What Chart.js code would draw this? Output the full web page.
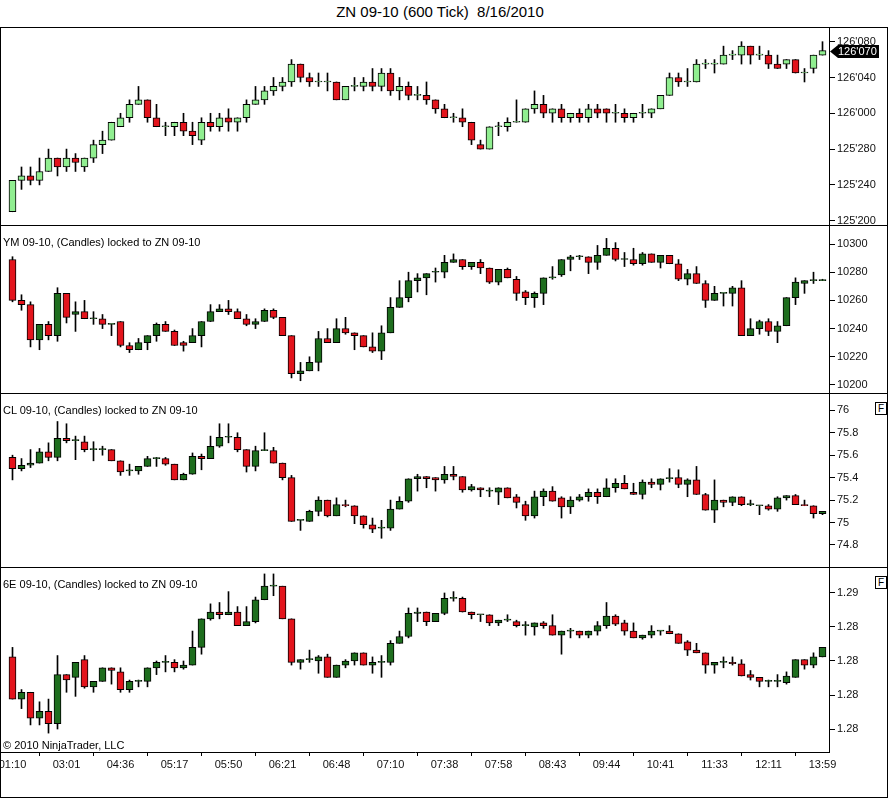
<!DOCTYPE html>
<html>
<head>
<meta charset="utf-8">
<script src="https://cdn.jsdelivr.net/npm/chart.js@4.4.0/dist/chart.umd.min.js"></script>
<style>
  body { margin: 0; background: #fff; }
  #wrap { position: relative; width: 889px; height: 798px; overflow: hidden; font-family: "Liberation Sans", Arial, sans-serif; color: #000; }
  #title { position: absolute; left: 0; top: 3px; width: 880px; text-align: center; font-size: 15px; white-space: pre; }
  .pane { position: absolute; left: 0; }
  .frame { position: absolute; left: 0; top: 27px; width: 886px; height: 769px; border: 1px solid #000; pointer-events: none; }
  .sep { position: absolute; left: 0; width: 888px; height: 1px; background: #000; }
  .lbl { position: absolute; left: 3px; font-size: 11px; white-space: pre; }
  .fbox { position: absolute; left: 875px; width: 10px; height: 11px; border: 1px solid #000; font-size: 10px; line-height: 11px; text-align: center; background: #fff; }
</style>
</head>
<body>
<div id="wrap">
  <div id="title">ZN 09-10 (600 Tick)  8/16/2010</div>
  <div class="pane" style="top:27px"><canvas id="zn" width="889" height="198"></canvas></div>
  <div class="pane" style="top:225px"><canvas id="ym" width="889" height="168"></canvas></div>
  <div class="pane" style="top:393px"><canvas id="cl" width="889" height="174"></canvas></div>
  <div class="pane" style="top:567px"><canvas id="eu" width="889" height="230"></canvas></div>
  <div class="frame"></div>
  <div class="sep" style="top:225px"></div>
  <div class="sep" style="top:393px"></div>
  <div class="sep" style="top:567px"></div>
  <div class="lbl" style="top:236px">YM 09-10, (Candles) locked to ZN 09-10</div>
  <div class="lbl" style="top:404px">CL 09-10, (Candles) locked to ZN 09-10</div>
  <div class="lbl" style="top:578px">6E 09-10, (Candles) locked to ZN 09-10</div>
  <div class="lbl" style="top:739px">© 2010 NinjaTrader, LLC</div>
  <div class="fbox" style="top:402px">F</div>
  <div class="fbox" style="top:576px">F</div>
</div>
<script>
// time labels under the bottom panel, one every 6 bars
const timeLabels = ['01:10','03:01','04:36','05:17','05:50','06:21','06:48','07:10','07:38','07:58','08:43','09:44','10:41','11:33','12:11','13:59'];
const labelStep = 6;

// ZN 09-10, in 32nds above 125'000
const znOpen = [21,24.5,25,24.5,25.5,27,26,27,26,27, 28.5,29,30.5,31.5,33,33.5,31.5,30.5,30.5,31, 30,29,31,30.5,31.5,31,31.5,33,33.5,34.5, 35,35.5,37.5,36,35.5,35.5,35.5,33.5,35,35, 35.5,35,36.5,34.5,35,34,34,33.5,32.5,31.5, 31.5,31,28.5,28,30.5,30.5,31,31,32.5,33, 32,32.5,31.5,32,31.5,32.5,32.5,32,32,31.5, 32,32,32.5,34,36,35.5,35.5,37.5,37.5,37.5, 38.5,38.5,39.5,38.5,38.5,37.5,37.5,38,36.5,37, 38.5];
const znHigh = [24.5,26,26,27,28,27,28,27.5,27,29, 30,31,32,33.5,35,33.5,33,31,31,32, 31,31.5,32,32,32.5,31.5,33.5,35,35,36, 36,38,37.5,36.5,36.5,36.5,35.5,35,36,36, 37,37,37,36,35.5,35,35.5,33.5,33,32, 32.5,31,29,30.5,31,31.5,33.5,32.5,34.5,34, 32.5,33,32,32.5,33,33,32.5,33,32.5,32, 33,32.5,34,36.5,36.5,37,38,38,38,39.5, 39,40,39.5,39.5,39,38.5,38,38,37,38.5, 40];
const znLow = [21,23.5,24,24,25.5,25,25.5,25.5,25.5,26.5, 27.5,29,30.5,31,33,31,30.5,29.5,29.5,29.5, 28.5,28.5,30,30,30,30,31,33,33,34, 34.5,35,35.5,35,35,34.5,33.5,33.5,34.5,34.5, 34.5,34.5,34,33.5,33.5,33.5,33,32,31.5,31, 30.5,28.5,28,28,29.5,30,31,31,32,31.5, 31,31,31,31,31,31.5,31,31,31,31, 31.5,31.5,32.5,34,35,35,35.5,37,36.5,37.5, 38,37.5,37.5,38,37,37,37,36.5,35.5,36.5, 38.5];
const znClose = [24.5,25,24.5,25.5,27,26,27,26.5,27,28.5, 29,31,31.5,33,33.5,31.5,30.5,30.5,31,30, 29.5,31,30.5,31.5,31,31.5,33,33.5,34.5,35, 35.5,37.5,36,35.5,35.5,35.5,33.5,35,35,35.5, 35,36.5,34.5,35,34,34,33.5,32.5,31.5,31.5, 31,29,28,30.5,30.5,31,31,32.5,33,32, 32.5,31.5,32,31.5,32.5,32,32,32,31.5,32, 32,32.5,34,36,35.5,35.5,37.5,37.5,37.5,38.5, 38.5,39.5,38.5,38.5,37.5,37,38,36.5,36.5,38.5, 39];
const znTicks = [20, 24, 28, 32, 36, 40];

// YM 09-10
const ymOpen = [10289,10260,10257,10232,10243,10235,10265,10250,10252,10247, 10247,10243,10245,10228,10225,10230,10235,10243,10238,10230, 10230,10235,10245,10252,10254,10252,10247,10243,10245,10253, 10248,10235,10208,10210,10216,10233,10230,10240,10237,10235, 10227,10224,10237,10255,10262,10274,10276,10280,10280,10287, 10289,10284,10287,10283,10273,10282,10275,10266,10262,10265, 10276,10278,10289,10291,10291,10287,10292,10297,10289,10289, 10286,10293,10287,10292,10286,10275,10279,10272,10260,10265, 10265,10269,10235,10240,10245,10238,10242,10262,10272,10274, 10274];
const ymHigh = [10291,10264,10259,10243,10245,10269,10265,10259,10260,10252, 10250,10243,10245,10230,10233,10235,10244,10245,10239,10231, 10240,10245,10257,10257,10260,10254,10250,10247,10254,10254, 10248,10235,10216,10220,10238,10240,10247,10248,10237,10235, 10237,10242,10262,10274,10280,10279,10279,10283,10292,10293, 10289,10287,10289,10283,10282,10283,10277,10267,10266,10276, 10284,10289,10292,10292,10291,10299,10304,10301,10294,10297, 10294,10293,10292,10292,10289,10282,10284,10274,10270,10265, 10270,10274,10247,10246,10247,10245,10262,10276,10274,10280, 10275];
const ymLow = [10259,10253,10227,10225,10232,10231,10244,10238,10247,10243, 10240,10235,10227,10223,10225,10225,10231,10238,10228,10224, 10230,10227,10245,10252,10250,10247,10242,10240,10245,10247, 10235,10205,10203,10210,10210,10230,10230,10236,10225,10227, 10223,10218,10237,10255,10259,10266,10264,10273,10276,10287, 10282,10282,10279,10272,10271,10276,10260,10257,10255,10257, 10275,10277,10281,10289,10279,10282,10292,10288,10284,10285, 10285,10287,10283,10286,10274,10271,10272,10255,10260,10256, 10256,10235,10235,10236,10235,10230,10242,10257,10265,10272, 10274];
const ymClose = [10260,10257,10232,10243,10235,10265,10248,10252,10247,10247, 10243,10243,10228,10225,10230,10235,10243,10238,10228,10228, 10235,10245,10252,10254,10252,10247,10243,10245,10253,10248, 10235,10208,10210,10216,10233,10230,10240,10237,10235,10227, 10224,10237,10255,10262,10274,10276,10279,10280,10287,10289, 10284,10287,10283,10273,10282,10276,10265,10262,10265,10276, 10276,10289,10291,10291,10287,10292,10297,10289,10289,10286, 10293,10287,10292,10286,10275,10279,10272,10260,10265,10265, 10269,10235,10240,10245,10238,10242,10262,10273,10274,10274, 10274];
const ymTicks = [10200, 10220, 10240, 10260, 10280, 10300];

// CL 09-10
const clOpen = [75.58,75.48,75.51,75.53,75.63,75.58,75.75,75.73,75.72,75.65, 75.65,75.65,75.55,75.46,75.46,75.50,75.57,75.57,75.52,75.38, 75.43,75.59,75.57,75.68,75.76,75.76,75.65,75.50,75.64,75.64, 75.53,75.40,75.02,75.01,75.10,75.20,75.06,75.16,75.15,75.06, 74.98,74.95,74.95,75.12,75.19,75.39,75.41,75.40,75.38,75.43, 75.41,75.29,75.31,75.28,75.27,75.31,75.23,75.16,75.06,75.23, 75.28,75.22,75.14,75.20,75.23,75.27,75.23,75.31,75.35,75.27, 75.25,75.36,75.34,75.39,75.40,75.34,75.38,75.25,75.11,75.20, 75.18,75.23,75.16,75.15,75.15,75.12,75.22,75.24,75.16,75.15, 75.08];
const clHigh = [75.60,75.57,75.65,75.66,75.71,75.90,75.88,75.77,75.77,75.72, 75.68,75.65,75.55,75.52,75.50,75.59,75.58,75.58,75.52,75.44, 75.62,75.61,75.77,75.88,75.88,75.80,75.65,75.68,75.80,75.67, 75.53,75.42,75.02,75.11,75.23,75.20,75.22,75.20,75.15,75.06, 75.04,75.02,75.20,75.23,75.39,75.43,75.41,75.40,75.50,75.50, 75.41,75.34,75.31,75.31,75.31,75.31,75.25,75.19,75.28,75.30, 75.32,75.23,75.23,75.25,75.30,75.30,75.39,75.39,75.42,75.35, 75.38,75.39,75.39,75.48,75.47,75.39,75.50,75.26,75.38,75.20, 75.23,75.23,75.20,75.15,75.16,75.23,75.24,75.25,75.20,75.15, 75.10];
const clLow = [75.38,75.46,75.49,75.53,75.55,75.55,75.71,75.56,75.63,75.55, 75.60,75.55,75.42,75.42,75.43,75.50,75.50,75.51,75.38,75.38, 75.43,75.47,75.57,75.67,75.71,75.63,75.45,75.46,75.64,75.53, 75.38,75.01,74.93,75.01,75.06,75.05,75.06,75.14,74.99,74.95, 74.91,74.86,74.93,75.12,75.18,75.28,75.31,75.28,75.35,75.38, 75.27,75.28,75.23,75.23,75.16,75.22,75.13,75.02,75.04,75.15, 75.19,75.04,75.08,75.19,75.19,75.17,75.23,75.27,75.30,75.25, 75.21,75.31,75.29,75.36,75.31,75.23,75.25,75.11,75.00,75.14, 75.15,75.15,75.15,75.07,75.11,75.10,75.20,75.16,75.15,75.04, 75.07];
const clClose = [75.48,75.51,75.53,75.63,75.58,75.75,75.73,75.73,75.65,75.65, 75.65,75.55,75.45,75.46,75.50,75.57,75.57,75.52,75.38,75.43, 75.59,75.57,75.68,75.76,75.76,75.65,75.50,75.64,75.64,75.53, 75.40,75.01,75.02,75.10,75.20,75.06,75.16,75.15,75.06,74.98, 74.94,74.95,75.12,75.19,75.39,75.41,75.39,75.38,75.43,75.41, 75.29,75.32,75.29,75.28,75.31,75.22,75.18,75.06,75.23,75.28, 75.19,75.14,75.20,75.23,75.27,75.23,75.31,75.35,75.30,75.25, 75.36,75.34,75.39,75.40,75.34,75.38,75.25,75.11,75.20,75.18, 75.23,75.16,75.16,75.15,75.12,75.22,75.24,75.16,75.15,75.08, 75.10];
const clTicks = [74.8, 75, 75.2, 75.4, 75.6, 75.8, 76];

// 6E 09-10
const euOpen = [1.2853,1.2822,1.2827,1.2808,1.2813,1.2804,1.2840,1.2838,1.2851,1.2831, 1.2835,1.2845,1.2842,1.2829,1.2835,1.2835,1.2845,1.2849,1.2849,1.2845, 1.2847,1.2860,1.2881,1.2886,1.2884,1.2886,1.2876,1.2879,1.2895,1.2905, 1.2905,1.2881,1.2849,1.2851,1.2850,1.2853,1.2838,1.2847,1.2850,1.2856, 1.2847,1.2849,1.2849,1.2863,1.2868,1.2885,1.2886,1.2879,1.2885,1.2896, 1.2896,1.2886,1.2884,1.2884,1.2878,1.2880,1.2879,1.2876,1.2875,1.2878, 1.2876,1.2869,1.2872,1.2872,1.2869,1.2872,1.2876,1.2883,1.2878,1.2872, 1.2867,1.2869,1.2872,1.2872,1.2870,1.2864,1.2858,1.2856,1.2847,1.2849, 1.2849,1.2848,1.2840,1.2838,1.2835,1.2835,1.2834,1.2838,1.2851,1.2847, 1.2853];
const euHigh = [1.2860,1.2829,1.2827,1.2820,1.2822,1.2854,1.2840,1.2849,1.2854,1.2835, 1.2845,1.2845,1.2845,1.2836,1.2836,1.2845,1.2850,1.2854,1.2851,1.2850, 1.2872,1.2881,1.2892,1.2893,1.2901,1.2890,1.2890,1.2897,1.2914,1.2914, 1.2905,1.2881,1.2851,1.2858,1.2854,1.2855,1.2847,1.2851,1.2856,1.2856, 1.2853,1.2854,1.2865,1.2872,1.2889,1.2889,1.2886,1.2885,1.2900,1.2901, 1.2897,1.2886,1.2884,1.2884,1.2880,1.2884,1.2880,1.2879,1.2878,1.2879, 1.2884,1.2872,1.2874,1.2872,1.2872,1.2879,1.2893,1.2884,1.2880,1.2878, 1.2869,1.2876,1.2872,1.2876,1.2870,1.2865,1.2863,1.2856,1.2849,1.2853, 1.2853,1.2851,1.2843,1.2838,1.2836,1.2840,1.2842,1.2851,1.2851,1.2856, 1.2860];
const euLow = [1.2822,1.2815,1.2803,1.2803,1.2797,1.2800,1.2827,1.2824,1.2830,1.2827, 1.2835,1.2833,1.2827,1.2827,1.2831,1.2831,1.2840,1.2842,1.2842,1.2844, 1.2847,1.2855,1.2880,1.2881,1.2884,1.2876,1.2876,1.2878,1.2895,1.2898, 1.2881,1.2847,1.2844,1.2849,1.2841,1.2838,1.2838,1.2845,1.2847,1.2847, 1.2841,1.2838,1.2847,1.2863,1.2867,1.2879,1.2876,1.2879,1.2884,1.2894, 1.2886,1.2881,1.2879,1.2876,1.2876,1.2879,1.2875,1.2869,1.2869,1.2874, 1.2869,1.2855,1.2867,1.2867,1.2867,1.2869,1.2874,1.2876,1.2869,1.2867, 1.2866,1.2867,1.2869,1.2870,1.2863,1.2854,1.2856,1.2841,1.2841,1.2845, 1.2847,1.2839,1.2836,1.2831,1.2831,1.2831,1.2833,1.2838,1.2844,1.2845, 1.2853];
const euClose = [1.2822,1.2827,1.2808,1.2813,1.2804,1.2840,1.2836,1.2849,1.2831,1.2835, 1.2845,1.2843,1.2829,1.2835,1.2835,1.2845,1.2849,1.2849,1.2845,1.2847, 1.2860,1.2881,1.2886,1.2884,1.2886,1.2876,1.2879,1.2895,1.2905,1.2905, 1.2881,1.2849,1.2851,1.2851,1.2853,1.2838,1.2847,1.2850,1.2856,1.2847, 1.2849,1.2849,1.2863,1.2868,1.2885,1.2886,1.2879,1.2885,1.2896,1.2896, 1.2886,1.2884,1.2884,1.2878,1.2880,1.2880,1.2876,1.2876,1.2878,1.2876, 1.2869,1.2872,1.2872,1.2869,1.2872,1.2876,1.2883,1.2877,1.2872,1.2867, 1.2869,1.2872,1.2872,1.2870,1.2863,1.2858,1.2856,1.2847,1.2849,1.2849, 1.2848,1.2839,1.2838,1.2835,1.2835,1.2835,1.2839,1.2851,1.2847,1.2853, 1.2860];
const euTicks = [1.28, 1.2825, 1.285, 1.2875, 1.29];

const FONT = '"Liberation Sans", Arial, sans-serif';
const RED = '#e3141c';

function zn32(v) {
  const whole = 125 + Math.floor(v / 32);
  const frac = v - (whole - 125) * 32;
  return whole + "'" + String(Math.round(frac * 10)).padStart(3, '0');
}

// last close marker on the ZN panel
const lastPricePlugin = {
  id: 'lastPrice',
  afterDraw(chart) {
    const ctx = chart.ctx;
    const last = znClose[znClose.length - 1];
    const y = Math.round(chart.scales.y.getPixelForValue(last)) + 0.5;
    const x = chart.chartArea.right + 1;
    ctx.save();
    ctx.fillStyle = '#000';
    ctx.beginPath();
    ctx.moveTo(x, y);
    ctx.lineTo(x + 8, y - 6.5);
    ctx.lineTo(x + 49, y - 6.5);
    ctx.lineTo(x + 49, y + 6.5);
    ctx.lineTo(x + 8, y + 6.5);
    ctx.closePath();
    ctx.fill();
    ctx.fillStyle = '#fff';
    ctx.font = '11px ' + FONT;
    ctx.textBaseline = 'middle';
    ctx.fillText(zn32(last), x + 8, y + 0.5);
    ctx.restore();
  }
};

function candles(id, open, high, low, close, o) {
  const bodies = open.map((v, i) => ({ x: i, y: [v, close[i]] }));
  const wicks = low.map((v, i) => ({ x: i, y: [v, high[i]] }));
  const fill = open.map((v, i) => close[i] >= v ? o.up : RED);
  const showX = !!o.showX;
  return new Chart(document.getElementById(id), {
    type: 'bar',
    data: {
      datasets: [
        { data: bodies, backgroundColor: fill, borderColor: '#000', borderWidth: 1, borderSkipped: false,
          barThickness: 7, minBarLength: 1, grouped: false, order: 0 },
        { data: wicks, backgroundColor: '#000', borderWidth: 0, barThickness: 1, grouped: false, order: 1 }
      ]
    },
    options: {
      responsive: false,
      devicePixelRatio: 1,
      animation: false,
      layout: { padding: { left: 1, right: 0, top: 0, bottom: 0 } },
      plugins: { legend: { display: false }, tooltip: { enabled: false } },
      scales: {
        x: {
          type: 'linear', offset: false,
          min: -11.5 / 9, max: 92 - 11.5 / 9,
          display: showX,
          afterFit: s => { if (showX) { s.height = 45; } s.paddingLeft = 0; s.paddingRight = 0; },
          afterBuildTicks: s => { s.ticks = timeLabels.map((t, k) => ({ value: k * labelStep })); },
          ticks: {
            autoSkip: false, maxRotation: 0, padding: 2, color: '#111',
            font: { size: 11, family: FONT },
            callback: (v, i) => timeLabels[i]
          },
          grid: { drawOnChartArea: false, drawTicks: true, tickLength: 4, color: '#000' },
          border: { display: true, color: '#000', width: 1 }
        },
        y: {
          position: 'right',
          min: o.min, max: o.max,
          afterFit: s => { s.width = 60; s.paddingTop = 0; s.paddingBottom = 0; },
          afterBuildTicks: s => { s.ticks = o.ticks.map(v => ({ value: v })); },
          ticks: {
            autoSkip: false, padding: 2, color: '#111',
            font: { size: 11, family: FONT },
            callback: o.fmt
          },
          grid: { drawOnChartArea: false, drawTicks: true, tickLength: 6, color: '#000' },
          border: { display: true, color: '#000', width: 1 }
        }
      }
    },
    plugins: o.plugins || []
  });
}

candles('zn', znOpen, znHigh, znLow, znClose, {
  up: '#90ee90', min: 19.52, max: 41.64, ticks: znTicks, fmt: v => zn32(v), plugins: [lastPricePlugin]
});
candles('ym', ymOpen, ymHigh, ymLow, ymClose, {
  up: '#1e6e1e', min: 10194.3, max: 10313.5, ticks: ymTicks, fmt: v => String(v)
});
candles('cl', clOpen, clHigh, clLow, clClose, {
  up: '#1e6e1e', min: 74.604, max: 76.154, ticks: clTicks, fmt: v => String(+v.toFixed(1))
});
candles('eu', euOpen, euHigh, euLow, euClose, {
  up: '#1e6e1e', min: 1.27831, max: 1.29191, ticks: euTicks,
  fmt: v => (Math.floor(v * 100 + 1e-6) / 100).toFixed(2), showX: true
});
</script>
</body>
</html>
